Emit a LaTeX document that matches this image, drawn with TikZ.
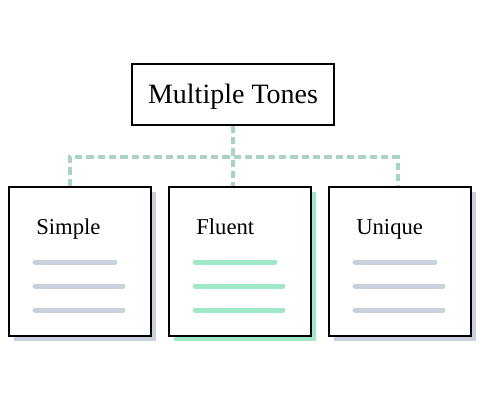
\documentclass[tikz,border=0pt]{standalone}
\usepackage{fontspec}
\setmainfont{Liberation Serif}
\usetikzlibrary{positioning,shadows}
\definecolor{slate}{HTML}{C8D1DD}
\definecolor{mint}{HTML}{9FE9C9}
\definecolor{sage}{HTML}{A8D4C0}
\tikzset{
  top/.style={draw, line width=1.5pt, fill=white, minimum width=151.5pt, minimum height=45.75pt, font=\fontsize{21}{25}\selectfont, inner sep=0pt, text height=14pt, text depth=0pt},
  card/.style={draw, line width=1.5pt, fill=white, minimum width=106.5pt, minimum height=111.75pt, inner sep=0pt,
    general shadow={fill=#1, shadow xshift=3.75pt, shadow yshift=-3.75pt}},
  lbl/.style={font=\fontsize{17}{20}\selectfont, inner sep=0pt, anchor=base west},
  dl/.style={sage, line width=2.4pt, dash pattern=on 5.5pt off 3pt},
  ln/.style={line width=3.75pt, line cap=round},
}
\begin{document}
\begin{tikzpicture}[x=0.75pt, y=-0.75pt, node distance=12pt]
\useasboundingbox (0,0) rectangle (480,408);
\node[top] (tones) at (233,94) {Multiple Tones};
\node[card=slate, anchor=north west] (simple) at (8,186) {};
\node[card=mint, right=of simple] (fluent) {};
\node[card=slate, right=of fluent] (unique) {};
\coordinate (bl) at (70,157);
\coordinate (br) at (398,157);
% dashed connectors
\draw[dl] (tones.south) -- (tones.south |- simple.north);
\draw[dl] (bl |- simple.north) -- (bl) -- (br) -- (br |- unique.north);
% labels and text lines
\foreach \b/\t/\c in {simple/Simple/slate, fluent/Fluent/mint, unique/Unique/slate} {
  \node[lbl] (\b-t) at ([shift={(28,48)}]\b.north west) {\t};
  \draw[ln, \c] ([shift={(27,76)}]\b.north west) -- ++(80,0);
  \draw[ln, \c] ([shift={(27,100)}]\b.north west) -- ++(88,0);
  \draw[ln, \c] ([shift={(27,124)}]\b.north west) -- ++(88,0);
}
\end{tikzpicture}
\end{document}
